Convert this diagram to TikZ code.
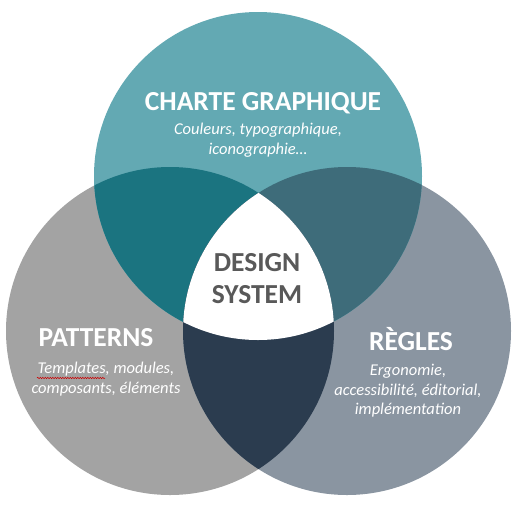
\documentclass[tikz,border=0pt]{standalone}
\usepackage{fontspec}
\setmainfont{Carlito}
\usetikzlibrary{decorations.pathmorphing}

\definecolor{charteteal}{HTML}{63A9B3}
\definecolor{patternsgrey}{HTML}{A3A3A3}
\definecolor{reglesgrey}{HTML}{8A95A1}
\definecolor{chartepatterns}{HTML}{1B7480}
\definecolor{charteregles}{HTML}{3E6C7A}
\definecolor{patternsregles}{HTML}{2B3C4F}
\definecolor{designgrey}{HTML}{595959}

\tikzset{
    titletext/.style={text=white, font=\bfseries\fontsize{27.5}{31}\selectfont},
    subtext/.style={text=white, font=\itshape\fontsize{16.5}{19.5}\selectfont, align=center},
    coretext/.style={text=designgrey, font=\bfseries\fontsize{27.5}{32}\selectfont, align=center}
}

\begin{document}
\begin{tikzpicture}[x=1pt, y=-1pt]
        % Setup the frame
        \useasboundingbox (0,0) rectangle (519,504);

        % Circles
        \fill[patternsgrey] (170,331) circle (164);
        \fill[reglesgrey] (347,331) circle (164);
        \fill[charteteal] (258,176) circle (164);

        % Overlaps with the top circle
        \begin{scope}
            \clip (258,176) circle (164);
            \fill[chartepatterns] (170,331) circle (164);
            \fill[charteregles] (347,331) circle (164);
        \end{scope}

        % Overlap at the bottom, then the core
        \begin{scope}
            \clip (170,331) circle (164);
            \fill[patternsregles] (347,331) circle (164);
            \clip (347,331) circle (164);
            \fill[white] (258,176) circle (164);
        \end{scope}

        % Charte graphique
        \node[titletext] (charte) at (263,103) {CHARTE GRAPHIQUE};
        \node[subtext] (chartesub) at (258,140) {Couleurs, typographique,\\iconographie\dots};

        % Design system
        \node[coretext] (core) at (257,279) {DESIGN\\SYSTEM};

        % Patterns
        \node[titletext] (patterns) at (96,338) {PATTERNS};
        \node[subtext] (patternssub) at (106,379) {Templates, modules,\\composants, éléments};
        \draw[red!80!black, line width=0.5pt, decorate,
              decoration={snake, amplitude=0.7pt, segment length=2.5pt}]
            (37,378) -- (105,378);

        % Regles
        \node[titletext] (regles) at (411,339) {RÈGLES};
        \node[subtext] (reglessub) at (408,391) {Ergonomie,\\accessibilité, éditorial,\\implémentation};

    \end{tikzpicture}
\end{document}
